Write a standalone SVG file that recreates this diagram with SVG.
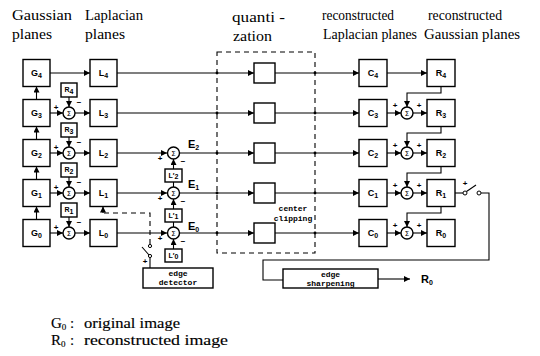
<svg xmlns="http://www.w3.org/2000/svg" width="540" height="356" viewBox="0 0 540 356">
<defs>
<marker id="ah" viewBox="0 0 6 6" refX="6" refY="3" markerWidth="6" markerHeight="6" orient="auto" markerUnits="userSpaceOnUse">
<path d="M0,0 L6,3 L0,6 z" fill="#000"/>
</marker>
<style>
.hd{font-family:"Liberation Serif",serif;font-size:15px;fill:#000}
.lg{font-family:"Liberation Serif",serif;font-size:15px;fill:#000;stroke:#000;stroke-width:0.15}
.bx{fill:#fff;stroke:#000;stroke-width:1.4}
.bl{font-family:"Liberation Sans",sans-serif;font-weight:bold;font-size:9px;fill:#000;text-anchor:middle}
.el{font-family:"Liberation Sans",sans-serif;font-weight:bold;font-size:11px;fill:#000}
.sb{font-size:7px}
.sm{font-family:"Liberation Sans",sans-serif;font-weight:bold;font-size:7px;fill:#000;text-anchor:middle}
.mono{font-family:"Liberation Mono",monospace;font-weight:bold;font-size:8px;fill:#000;text-anchor:middle}
.cir{fill:#fff;stroke:#000;stroke-width:1.4}
.sg{font-family:"DejaVu Sans",sans-serif;font-size:7px;fill:#000;text-anchor:middle}
.ln{fill:none;stroke:#000;stroke-width:1.1}
.ar{fill:none;stroke:#000;stroke-width:1.1;marker-end:url(#ah)}
.ds{fill:none;stroke:#000;stroke-width:1.1;stroke-dasharray:5,4}
.pm{font-family:"Liberation Sans",sans-serif;font-weight:bold;font-size:8px;fill:#000;text-anchor:middle}
.dot{fill:#000}
</style>
</defs>
<rect width="540" height="356" fill="#fff"/>

<g id="headings">
<text class="hd" x="12" y="20" textLength="60" lengthAdjust="spacingAndGlyphs">Gaussian</text>
<text class="hd" x="12" y="39" textLength="40" lengthAdjust="spacingAndGlyphs">planes</text>
<text class="hd" x="85" y="20" textLength="58" lengthAdjust="spacingAndGlyphs">Laplacian</text>
<text class="hd" x="85" y="39" textLength="40" lengthAdjust="spacingAndGlyphs">planes</text>
<text class="hd" x="232" y="22" textLength="53" lengthAdjust="spacingAndGlyphs">quanti -</text>
<text class="hd" x="233" y="41" textLength="39" lengthAdjust="spacingAndGlyphs">zation</text>
<text class="hd" x="322" y="20" textLength="72" lengthAdjust="spacingAndGlyphs">reconstructed</text>
<text class="hd" x="323" y="39" textLength="94" lengthAdjust="spacingAndGlyphs">Laplacian planes</text>
<text class="hd" x="428" y="20" textLength="74" lengthAdjust="spacingAndGlyphs">reconstructed</text>
<text class="hd" x="424" y="39" textLength="96" lengthAdjust="spacingAndGlyphs">Gaussian planes</text>
</g>

<g id="quantization-region">
<rect class="ds" x="217" y="52" width="98" height="201"/>
<text class="mono" x="293" y="211">center</text>
<text class="mono" x="293" y="221">clipping</text>
</g>

<g id="connectors">
<path class="ar" d="M36.5,219.5 V206.5"/>
<path class="ar" d="M36.5,179.5 V166.5"/>
<path class="ar" d="M36.5,139.5 V126.5"/>
<path class="ar" d="M36.5,99.5 V86.5"/>
<path class="ar" d="M50,73 H90"/>
<path class="ar" d="M50,113 H63"/>
<path class="ar" d="M50,153 H63"/>
<path class="ar" d="M50,193 H63"/>
<path class="ar" d="M50,233 H63"/>
<path class="ar" d="M69,97 V107"/>
<path class="ar" d="M69,137 V147"/>
<path class="ar" d="M69,177 V187"/>
<path class="ar" d="M69,217 V227"/>
<path class="ar" d="M75,113 H90"/>
<path class="ar" d="M75,153 H90"/>
<path class="ar" d="M75,193 H90"/>
<path class="ar" d="M75,233 H90"/>
<path class="ar" d="M117,73 H254"/>
<path class="ar" d="M117,113 H254"/>
<path class="ar" d="M117,153 H167"/>
<path class="ar" d="M117,193 H167"/>
<path class="ar" d="M117,233 H167"/>
<path class="ar" d="M179,153 H254"/>
<path class="ar" d="M179,193 H254"/>
<path class="ar" d="M179,233 H254"/>
<path class="ar" d="M173.5,169 V159"/>
<path class="ar" d="M173.5,209 V199"/>
<path class="ar" d="M173.5,249 V239"/>
<path class="ln" d="M173.5,182 V187"/>
<path class="ln" d="M173.5,222 V227"/>
<path class="ar" d="M275,73 H359"/>
<path class="ar" d="M275,113 H359"/>
<path class="ar" d="M275,153 H359"/>
<path class="ar" d="M275,193 H359"/>
<path class="ar" d="M275,233 H359"/>
<path class="ar" d="M387,73 H427"/>
<path class="ar" d="M387,113 H401"/>
<path class="ar" d="M387,153 H401"/>
<path class="ar" d="M387,193 H401"/>
<path class="ar" d="M387,233 H401"/>
<path class="ar" d="M413,113 H427"/>
<path class="ar" d="M413,153 H427"/>
<path class="ar" d="M413,193 H427"/>
<path class="ar" d="M413,233 H427"/>
<path class="ar" d="M441,86.5 V93 H407 V107"/>
<path class="ar" d="M441,126.5 V133 H407 V147"/>
<path class="ar" d="M441,166.5 V173 H407 V187"/>
<path class="ar" d="M441,206.5 V213 H407 V227"/>
<path class="ln" d="M455,193 H463"/>
<circle cx="465" cy="193" r="2" fill="#fff" stroke="#000" stroke-width="1"/>
<path class="ln" d="M466.5,191.5 L476,185"/>
<circle cx="479" cy="193" r="2" fill="#fff" stroke="#000" stroke-width="1"/>
<path class="ln" d="M481,193 H489 V260 H263 V280 H283"/>
<path class="ar" d="M378,279 H410"/>
<path class="ln" d="M150,268 V258"/>
<circle cx="150" cy="256" r="1.6" fill="#fff" stroke="#000" stroke-width="1"/>
<path class="ln" d="M149,255 L142,247"/>
<circle cx="150" cy="246" r="1.6" fill="#fff" stroke="#000" stroke-width="1"/>
<path class="ds" d="M150,244 V213 H103"/>
<path class="ar" d="M103,213 V206.5"/>
<g class="dot">
<circle cx="217" cy="73" r="1.4"/><circle cx="315" cy="73" r="1.4"/>
<circle cx="217" cy="113" r="1.4"/><circle cx="315" cy="113" r="1.4"/>
<circle cx="217" cy="153" r="1.4"/><circle cx="315" cy="153" r="1.4"/>
<circle cx="217" cy="193" r="1.4"/><circle cx="315" cy="193" r="1.4"/>
<circle cx="217" cy="233" r="1.4"/><circle cx="315" cy="233" r="1.4"/>
</g>
<g>
<text class="pm" x="56" y="110">+</text><text class="pm" x="79" y="105">−</text>
<text class="pm" x="56" y="150">+</text><text class="pm" x="79" y="145">−</text>
<text class="pm" x="56" y="190">+</text><text class="pm" x="79" y="185">−</text>
<text class="pm" x="56" y="230">+</text><text class="pm" x="79" y="225">−</text>
<text class="pm" x="160" y="161">+</text><text class="pm" x="183" y="164">−</text>
<text class="pm" x="160" y="201">+</text><text class="pm" x="183" y="204">−</text>
<text class="pm" x="160" y="241">+</text><text class="pm" x="183" y="244">−</text>
<text class="pm" x="395" y="108">+</text><text class="pm" x="419" y="108">+</text>
<text class="pm" x="395" y="148">+</text><text class="pm" x="419" y="148">+</text>
<text class="pm" x="395" y="188">+</text><text class="pm" x="419" y="188">+</text>
<text class="pm" x="395" y="228">+</text><text class="pm" x="419" y="228">+</text>
<text class="pm" x="465" y="186">+</text>
<text class="pm" x="145" y="264">+</text>
</g>
<text class="el" x="421" y="283">R<tspan class="sb" dy="2">0</tspan></text>
</g>

<g id="G4"><rect class="bx" x="23" y="59.5" width="27" height="27"/><text class="bl" x="36.5" y="76">G<tspan class="sb" dy="2">4</tspan></text></g>
<g id="G3"><rect class="bx" x="23" y="99.5" width="27" height="27"/><text class="bl" x="36.5" y="116">G<tspan class="sb" dy="2">3</tspan></text></g>
<g id="G2"><rect class="bx" x="23" y="139.5" width="27" height="27"/><text class="bl" x="36.5" y="156">G<tspan class="sb" dy="2">2</tspan></text></g>
<g id="G1"><rect class="bx" x="23" y="179.5" width="27" height="27"/><text class="bl" x="36.5" y="196">G<tspan class="sb" dy="2">1</tspan></text></g>
<g id="G0"><rect class="bx" x="23" y="219.5" width="27" height="27"/><text class="bl" x="36.5" y="236">G<tspan class="sb" dy="2">0</tspan></text></g>

<g id="X4"><rect class="bx" x="61" y="83" width="16" height="14"/><text class="sm" x="69" y="92">R<tspan dy="1.5">4</tspan></text></g>
<g id="X3"><rect class="bx" x="61" y="123" width="16" height="14"/><text class="sm" x="69" y="132">R<tspan dy="1.5">3</tspan></text></g>
<g id="X2"><rect class="bx" x="61" y="163" width="16" height="14"/><text class="sm" x="69" y="172">R<tspan dy="1.5">2</tspan></text></g>
<g id="X1"><rect class="bx" x="61" y="203" width="16" height="14"/><text class="sm" x="69" y="212">R<tspan dy="1.5">1</tspan></text></g>

<g id="S3"><circle class="cir" cx="69" cy="113" r="6"/><text class="sg" x="69" y="115.5">Σ</text></g>
<g id="S2"><circle class="cir" cx="69" cy="153" r="6"/><text class="sg" x="69" y="155.5">Σ</text></g>
<g id="S1"><circle class="cir" cx="69" cy="193" r="6"/><text class="sg" x="69" y="195.5">Σ</text></g>
<g id="S0"><circle class="cir" cx="69" cy="233" r="6"/><text class="sg" x="69" y="235.5">Σ</text></g>

<g id="L4"><rect class="bx" x="90" y="59.5" width="27" height="27"/><text class="bl" x="103.5" y="76">L<tspan class="sb" dy="2">4</tspan></text></g>
<g id="L3"><rect class="bx" x="90" y="99.5" width="27" height="27"/><text class="bl" x="103.5" y="116">L<tspan class="sb" dy="2">3</tspan></text></g>
<g id="L2"><rect class="bx" x="90" y="139.5" width="27" height="27"/><text class="bl" x="103.5" y="156">L<tspan class="sb" dy="2">2</tspan></text></g>
<g id="L1"><rect class="bx" x="90" y="179.5" width="27" height="27"/><text class="bl" x="103.5" y="196">L<tspan class="sb" dy="2">1</tspan></text></g>
<g id="L0"><rect class="bx" x="90" y="219.5" width="27" height="27"/><text class="bl" x="103.5" y="236">L<tspan class="sb" dy="2">0</tspan></text></g>

<g id="E2"><circle class="cir" cx="173.5" cy="153" r="6"/><text class="sg" x="173.5" y="155.5">Σ</text><text class="el" x="188" y="148">E<tspan class="sb" dy="2">2</tspan></text></g>
<g id="E1"><circle class="cir" cx="173.5" cy="193" r="6"/><text class="sg" x="173.5" y="195.5">Σ</text><text class="el" x="188" y="188">E<tspan class="sb" dy="2">1</tspan></text></g>
<g id="E0"><circle class="cir" cx="173.5" cy="233" r="6"/><text class="sg" x="173.5" y="235.5">Σ</text><text class="el" x="188" y="230">E<tspan class="sb" dy="2">0</tspan></text></g>

<g id="Lp2"><rect class="bx" x="165" y="169" width="17" height="13"/><text class="sm" x="173.5" y="177.5">L′<tspan dy="1.5">2</tspan></text></g>
<g id="Lp1"><rect class="bx" x="165" y="209" width="17" height="13"/><text class="sm" x="173.5" y="217.5">L′<tspan dy="1.5">1</tspan></text></g>
<g id="Lp0"><rect class="bx" x="165" y="249" width="17" height="13"/><text class="sm" x="173.5" y="257.5">L′<tspan dy="1.5">0</tspan></text></g>

<g id="Q4"><rect class="bx" x="254" y="63" width="21" height="20"/></g>
<g id="Q3"><rect class="bx" x="254" y="103" width="21" height="20"/></g>
<g id="Q2"><rect class="bx" x="254" y="143" width="21" height="20"/></g>
<g id="Q1"><rect class="bx" x="254" y="183" width="21" height="20"/></g>
<g id="Q0"><rect class="bx" x="254" y="223" width="21" height="20"/></g>

<g id="C4"><rect class="bx" x="359" y="59.5" width="28" height="27"/><text class="bl" x="373" y="76">C<tspan class="sb" dy="2">4</tspan></text></g>
<g id="C3"><rect class="bx" x="359" y="99.5" width="28" height="27"/><text class="bl" x="373" y="116">C<tspan class="sb" dy="2">3</tspan></text></g>
<g id="C2"><rect class="bx" x="359" y="139.5" width="28" height="27"/><text class="bl" x="373" y="156">C<tspan class="sb" dy="2">2</tspan></text></g>
<g id="C1"><rect class="bx" x="359" y="179.5" width="28" height="27"/><text class="bl" x="373" y="196">C<tspan class="sb" dy="2">1</tspan></text></g>
<g id="C0"><rect class="bx" x="359" y="219.5" width="28" height="27"/><text class="bl" x="373" y="236">C<tspan class="sb" dy="2">0</tspan></text></g>

<g id="A3"><circle class="cir" cx="407" cy="113" r="6"/><text class="sg" x="407" y="115.5">Σ</text></g>
<g id="A2"><circle class="cir" cx="407" cy="153" r="6"/><text class="sg" x="407" y="155.5">Σ</text></g>
<g id="A1"><circle class="cir" cx="407" cy="193" r="6"/><text class="sg" x="407" y="195.5">Σ</text></g>
<g id="A0"><circle class="cir" cx="407" cy="233" r="6"/><text class="sg" x="407" y="235.5">Σ</text></g>

<g id="R4"><rect class="bx" x="427" y="59.5" width="28" height="27"/><text class="bl" x="441" y="76">R<tspan class="sb" dy="2">4</tspan></text></g>
<g id="R3"><rect class="bx" x="427" y="99.5" width="28" height="27"/><text class="bl" x="441" y="116">R<tspan class="sb" dy="2">3</tspan></text></g>
<g id="R2"><rect class="bx" x="427" y="139.5" width="28" height="27"/><text class="bl" x="441" y="156">R<tspan class="sb" dy="2">2</tspan></text></g>
<g id="R1"><rect class="bx" x="427" y="179.5" width="28" height="27"/><text class="bl" x="441" y="196">R<tspan class="sb" dy="2">1</tspan></text></g>
<g id="R0"><rect class="bx" x="427" y="219.5" width="28" height="27"/><text class="bl" x="441" y="236">R<tspan class="sb" dy="2">0</tspan></text></g>

<g id="edge-detector"><rect class="bx" x="143" y="268" width="70" height="20"/><text class="mono" x="178" y="276">edge</text><text class="mono" x="178" y="285">detector</text></g>
<g id="edge-sharpening"><rect class="bx" x="283" y="269" width="95" height="19"/><text class="mono" x="330.5" y="277">edge</text><text class="mono" x="330.5" y="286">sharpening</text></g>

<g id="legend">
<text class="lg" x="51" y="328">G<tspan font-size="9" dy="2">0</tspan></text>
<text class="lg" x="70" y="328">:</text>
<text class="lg" x="84" y="328" textLength="96" lengthAdjust="spacingAndGlyphs">original image</text>
<text class="lg" x="51" y="345">R<tspan font-size="9" dy="2">0</tspan></text>
<text class="lg" x="70" y="345">:</text>
<text class="lg" x="84" y="345" textLength="144" lengthAdjust="spacingAndGlyphs">reconstructed image</text>
</g>
</svg>
